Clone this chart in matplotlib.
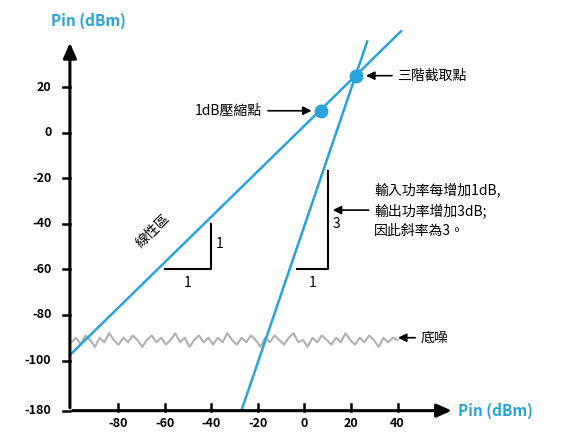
import numpy as np
import matplotlib.pyplot as plt

plt.rcParams['font.family'] = ['Noto Sans CJK TC', 'DejaVu Sans']

blue = '#29a3dc'
x_ticks = [-80, -60, -40, -20, 0, 20, 40]
y_ticks = [20, 0, -20, -40, -60, -80, -100]
y_bottom = -122          # drawn position of the broken "-180" tick
y_bottom_label = '-180'
lin_offset = 3           # linear region: Pout = Pin + 3
third_offset = -41       # third-order: Pout = 3*Pin - 41
p1db = (7.3, 9.6)
ip3 = (22.3, 25.0)
noise_x = np.linspace(-100, 40, 70)
noise_y = [-92, -90, -93, -89, -91, -94, -90, -92, -88, -91, -93, -90, -92, -89,
           -91, -94, -91, -89, -92, -90, -93, -91, -88, -92, -90, -94, -91, -89,
           -92, -90, -93, -90, -92, -88, -91, -93, -90, -92, -89, -91, -94, -90,
           -92, -89, -91, -93, -90, -88, -92, -91, -94, -90, -92, -89, -91, -93,
           -90, -92, -88, -91, -93, -90, -92, -89, -91, -94, -90, -92, -90, -91]

fig = plt.figure(figsize=(5.83, 4.38), dpi=100)
ax = fig.add_axes([0, 0, 1, 1])
ax.set_xlim(-130.6, 119.6)
ax.set_ylim(-134, 58.2)
ax.axis('off')

x0 = -100.6
# axes with arrows
ax.annotate('', xy=(x0, 40.6), xytext=(x0, y_bottom),
            arrowprops=dict(arrowstyle='-|>,head_width=0.4,head_length=0.9', color='black', lw=2.2))
ax.annotate('', xy=(64.5, y_bottom), xytext=(x0, y_bottom),
            arrowprops=dict(arrowstyle='-|>,head_width=0.4,head_length=0.9', color='black', lw=2.2))
ax.text(x0 + 8, 49, 'Pin (dBm)', color=blue, fontsize=11, fontweight='bold', ha='center', va='center')
ax.text(66, y_bottom, 'Pin (dBm)', color=blue, fontsize=11, fontweight='bold', ha='left', va='center')

for t in x_ticks:
    ax.plot([t, t], [y_bottom, y_bottom + 3], color='black', lw=1.8)
    ax.text(t, y_bottom - 3, str(t), fontsize=9, fontweight='bold', ha='center', va='top')
for t in y_ticks + [y_bottom]:
    ax.plot([x0 - 3, x0], [t, t], color='black', lw=1.8)
for t in y_ticks:
    ax.text(x0 - 8, t, str(t), fontsize=9, fontweight='bold', ha='right', va='center')
ax.text(x0 - 8, y_bottom, y_bottom_label, fontsize=9, fontweight='bold', ha='right', va='center')

# noise floor
ax.plot(noise_x, noise_y, color='#b0b0b0', lw=1.5)

# linear and third-order lines
xl = np.array([-100, 41.5])
ax.plot(xl, xl + lin_offset, color=blue, lw=1.8)
x3 = np.array([(y_bottom - third_offset) / 3, 27])
ax.plot(x3, 3 * x3 + third_offset, color=blue, lw=1.8)

# points
ax.plot(*p1db, 'o', color=blue, ms=9)
ax.plot(*ip3, 'o', color=blue, ms=9)

# slope triangles
ax.plot([-60, -40, -40], [-60, -60, -40], color='black', lw=1.5)
ax.text(-50, -63, '1', fontsize=10, ha='center', va='top')
ax.text(-38, -49, '1', fontsize=10, ha='left', va='center')
ax.plot([-3, 10, 10], [-60, -60, -17], color='black', lw=1.5)
ax.text(3.5, -63, '1', fontsize=10, ha='center', va='top')
ax.text(12, -40, '3', fontsize=10, ha='left', va='center')

ax.text(-65, -43, '線性區', fontsize=10, rotation=44, ha='center', va='center')

arrow = dict(arrowstyle='-|>,head_width=0.25,head_length=0.5', color='black', lw=1.2)
ax.annotate('1dB壓縮點', xy=(p1db[0] - 3, p1db[1]), xytext=(-18, p1db[1]),
            fontsize=10, ha='right', va='center', arrowprops=arrow)
ax.annotate('三階截取點', xy=(ip3[0] + 3, ip3[1]), xytext=(40, ip3[1]),
            fontsize=10, ha='left', va='center', arrowprops=arrow)
ax.annotate('輸入功率每增加1dB,\n輸出功率增加3dB;\n因此斜率為3。', xy=(11, -34), xytext=(30, -34),
            fontsize=10, ha='left', va='center', linespacing=1.5, arrowprops=arrow)
ax.annotate('底噪', xy=(39, -90), xytext=(50, -90),
            fontsize=10, ha='left', va='center', arrowprops=arrow)

fig.savefig('out.png', dpi=100)
